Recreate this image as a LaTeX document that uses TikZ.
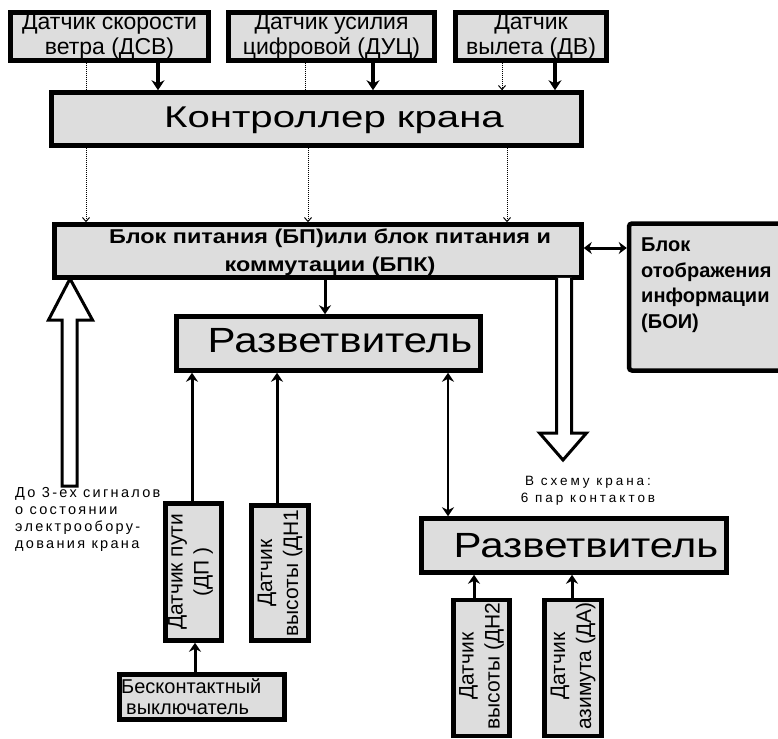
\documentclass[tikz,border=0pt]{standalone}
\usepackage{fontspec}
\setmainfont{Liberation Sans}
\newfontfamily\spaced[LetterSpace=16]{Liberation Sans}
\newfontfamily\wspaced[LetterSpace=22]{Liberation Sans}
\usetikzlibrary{arrows.meta}
\definecolor{boxgray}{RGB}{221,221,221}
\begin{document}
\begin{tikzpicture}[x=1pt,y=-1pt,
  box/.style={draw, line width=4.5pt, fill=boxgray, inner sep=0pt, align=center},
  thickarr/.style={line width=4pt, -{Stealth[length=10pt,width=13pt]}},
  thinarr/.style={line width=3pt, -{Stealth[length=9pt,width=12pt]}},
  thinboth/.style={line width=2.5pt, {Stealth[length=9pt,width=12pt]}-{Stealth[length=9pt,width=12pt]}},
  dotline/.style={densely dotted, line width=1pt},
  dotarr/.style={densely dotted, line width=1pt, -{Straight Barb[length=4pt,width=7pt]}},
  hollow/.style={draw, line width=3pt, fill=white, line join=miter},
  plain/.style={inner sep=0pt, align=left}]
\useasboundingbox (0,0) rectangle (778,738);
\fill[white] (0,0) rectangle (778,738);
\clip (0,0) rectangle (778,738);

% top sensors
\node[box, minimum width=198pt, minimum height=48pt, font=\fontsize{23}{25}\selectfont] (dsv) at (109.5,36.5) {Датчик скорости\\ветра (ДСВ)};
\node[box, minimum width=206pt, minimum height=48pt, font=\fontsize{23}{25}\selectfont] (duc) at (331.5,36.5) {Датчик усилия\\цифровой (ДУЦ)};
\node[box, minimum width=151pt, minimum height=48pt, font=\fontsize{23}{25}\selectfont] (dv) at (531,36.5) {Датчик\\вылета (ДВ)};

% controller
\node[box, minimum width=530pt, minimum height=53pt] (ctrl) at (316.5,119) {};
\node[plain, anchor=base, font=\fontsize{30}{34}\selectfont] (ctrlt) at (334,128) {\scalebox{1.34}[1]{Контроллер крана}};

% power block
\node[box, minimum width=527pt, minimum height=53pt] (bp) at (318,251) {};
\node[plain, align=center, font=\fontsize{20}{28.5}\selectfont\bfseries] (bpt) at (330,252) {\scalebox{1.17}[1]{Блок питания (БП)или блок питания и}\\\scalebox{1.17}[1]{коммутации (БПК)}};

% display block
\node[box, rounded corners=3pt, minimum width=170pt, minimum height=147pt] (boi) at (714,297) {};
\node[plain, anchor=north west, font=\fontsize{20}{25.5}\selectfont\bfseries] (boit) at (641,238) {Блок\\отображения\\информации\\(БОИ)};

% splitters
\node[box, minimum width=304pt, minimum height=54pt] (raz1) at (328.5,343.5) {};
\node[plain, anchor=base, font=\fontsize{35}{40}\selectfont] (raz1t) at (340,352) {\scalebox{1.2}[1]{Разветвитель}};
\node[box, minimum width=305pt, minimum height=54pt] (raz2) at (574,545.5) {};
\node[plain, anchor=base, font=\fontsize{35}{40}\selectfont] (raz2t) at (586,557) {\scalebox{1.2}[1]{Разветвитель}};

% vertical sensors
\node[box, minimum width=56pt, minimum height=137pt] (dp) at (193.5,572) {};
\node[plain, align=center, rotate=90, font=\fontsize{21}{26}\selectfont] (dpt) at (190.5,572) {Датчик пути\\(ДП )};
\node[box, minimum width=57pt, minimum height=135pt] (dn1) at (280,573) {};
\node[plain, align=center, rotate=90, font=\fontsize{21}{26}\selectfont] (dn1t) at (280,573) {Датчик\\высоты (ДН1};
\node[box, minimum width=56pt, minimum height=136pt] (dn2) at (481.5,668) {};
\node[plain, align=center, rotate=90, font=\fontsize{21}{26}\selectfont] (dn2t) at (481.5,666) {Датчик\\высоты (ДН2};
\node[box, minimum width=57pt, minimum height=136pt] (da) at (573,668) {};
\node[plain, align=center, rotate=90, font=\fontsize{21}{26}\selectfont] (dat) at (573,666) {Датчик\\азимута (ДА)};

% contactless switch
\node[box, minimum width=165pt, minimum height=45pt] (bv) at (202,697) {};
\node[plain, anchor=west, font=\fontsize{20}{21}\selectfont] (bvt) at (121,697) {Бесконтактный\\\hspace*{5pt}выключатель};

% labels
\node[plain, anchor=north west, font=\fontsize{14.5}{17}\selectfont\spaced] (lbl1) at (15,487) {До 3-ех сигналов\\о состоянии\\электрообору-\\дования крана};
\node[plain, align=center, font=\fontsize{13.5}{17}\selectfont\wspaced] (lbl2) at (588,491) {В схему крана:\\6 пар контактов};

% sensor -> controller
\draw[dotline] (dsv.south -| 86,0) -- (ctrl.north -| 86,0);
\draw[thickarr] (dsv.south -| 158,0) -- (ctrl.north -| 158,0);
\draw[dotline] (duc.south -| 305,0) -- (ctrl.north -| 305,0);
\draw[thickarr] (duc.south -| 373,0) -- (ctrl.north -| 373,0);
\draw[dotarr] (dv.south -| 502,0) -- (ctrl.north -| 502,0);
\draw[thickarr] (dv.south -| 555,0) -- (ctrl.north -| 555,0);

% controller -> power block
\draw[dotarr] (ctrl.south -| 86,0) -- (bp.north -| 86,0);
\draw[dotarr] (ctrl.south -| 308,0) -- (bp.north -| 308,0);
\draw[dotarr] (ctrl.south -| 507,0) -- (bp.north -| 507,0);

% power block connections
\draw[thinarr] (bp.south -| 325,0) -- (raz1.north -| 325,0);
\draw[line width=3pt, {Stealth[length=8pt,width=12pt]}-{Stealth[length=8pt,width=12pt]}] (bp.east |- 0,248) -- (boi.west |- 0,248);

% big hollow arrows
\coordinate (upTip) at (bp.south -| 70,0);
\draw[hollow] (62,486) -- (62,320) -- (48.5,320) -- ([yshift=1pt]upTip) -- (92.5,320) -- (77,320) -- (77,486) -- cycle;
\coordinate (dnTop) at (bp.south -| 564,0);
\draw[hollow] ([xshift=-7.5pt, yshift=2pt]dnTop) -- (556.5,433) -- (539.5,433) -- (563,460) -- (586.5,433) -- (571.5,433) -- ([xshift=7.5pt, yshift=2pt]dnTop);

% splitter 1 connections
\draw[thinarr] (dp.north -| 192,0) -- (raz1.south -| 192,0);
\draw[thinarr] (dn1.north -| 277,0) -- (raz1.south -| 277,0);
\draw[thinboth] (raz1.south -| 448,0) -- (raz2.north -| 448,0);
\draw[thinarr] (bv.north -| 195,0) -- (dp.south -| 195,0);

% splitter 2 connections
\draw[thinarr] (dn2.north -| 474,0) -- (raz2.south -| 474,0);
\draw[thinarr] (da.north -| 572,0) -- (raz2.south -| 572,0);
\end{tikzpicture}
\end{document}
